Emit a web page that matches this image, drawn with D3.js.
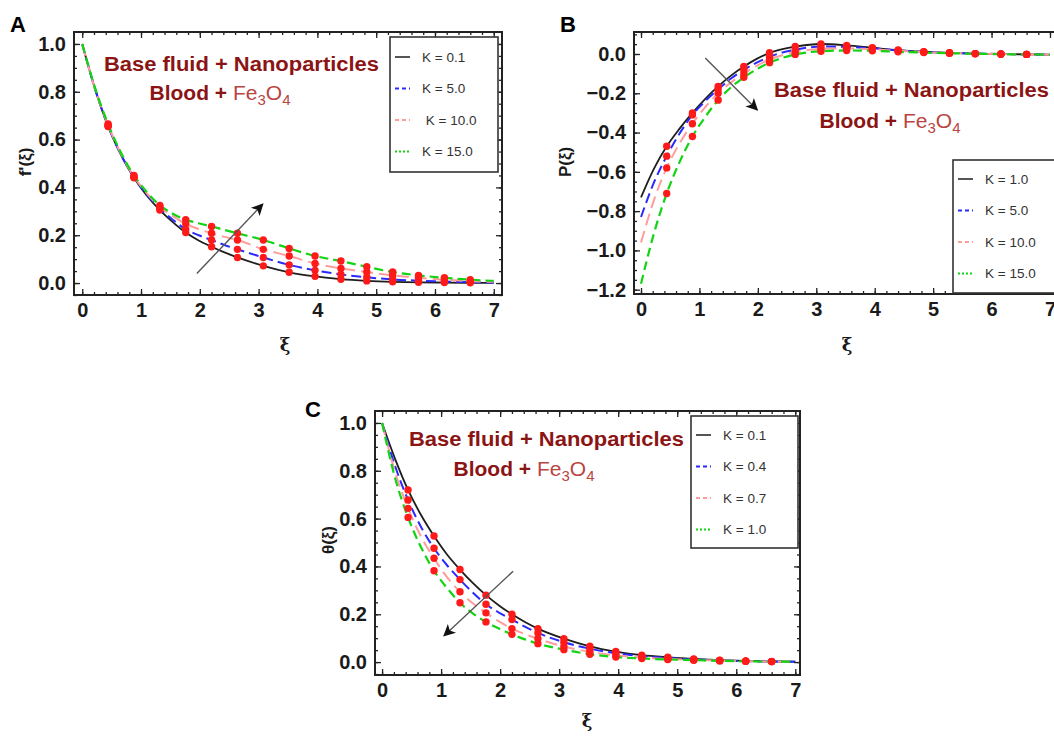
<!DOCTYPE html>
<html>
<head>
<meta charset="utf-8">
<script src="https://cdn.jsdelivr.net/npm/d3@7"></script>
<style>
  body { margin: 0; background: #fff; }
  svg { display: block; font-family: "Liberation Sans", Arial, sans-serif; }
</style>
</head>
<body>
<div id="container"></div>
<script>
/* DATA */
const xi = [0, 0.22, 0.44, 0.66, 0.88, 1.1, 1.32, 1.54, 1.76, 1.98, 2.2, 2.42, 2.64,
            3.08, 3.52, 3.96, 4.4, 4.84, 5.28, 5.72, 6.16, 6.6, 7.0];
const dotXi = [0.44, 0.88, 1.32, 1.76, 2.2, 2.64, 3.08, 3.52, 3.96, 4.4, 4.84, 5.28, 5.72, 6.16, 6.6];

// A : velocity f'(xi)
const fA_K01 = [1.0, 0.81, 0.655, 0.535, 0.44, 0.365, 0.305, 0.255, 0.211, 0.178, 0.152, 0.128, 0.107,
                0.072, 0.045, 0.028, 0.016, 0.009, 0.005, 0.003, 0.002, 0.001, 0.0005];
const fA_K5  = [1.0, 0.81, 0.657, 0.537, 0.443, 0.37, 0.312, 0.265, 0.225, 0.2, 0.18, 0.159, 0.141,
                0.107, 0.076, 0.053, 0.036, 0.024, 0.015, 0.01, 0.006, 0.004, 0.002];
const fA_K10 = [1.0, 0.81, 0.66, 0.54, 0.445, 0.375, 0.318, 0.28, 0.248, 0.226, 0.208, 0.193, 0.18,
                0.141, 0.113, 0.082, 0.061, 0.046, 0.032, 0.022, 0.014, 0.008, 0.005];
const fA_K15 = [1.0, 0.815, 0.665, 0.545, 0.45, 0.38, 0.325, 0.29, 0.265, 0.25, 0.237, 0.222, 0.208,
                0.18, 0.145, 0.113, 0.092, 0.068, 0.046, 0.032, 0.022, 0.014, 0.009];

// B : P(xi)
const pB_K1  = [-0.73, -0.585, -0.47, -0.38, -0.30, -0.228, -0.165, -0.11, -0.064, -0.025, 0.006, 0.025, 0.038,
                0.051, 0.044, 0.032, 0.02, 0.012, 0.006, 0.002, 0.0, -0.002, -0.003];
const pB_K5  = [-0.83, -0.655, -0.52, -0.405, -0.31, -0.24, -0.18, -0.125, -0.081, -0.044, -0.014, 0.008, 0.022,
                0.038, 0.036, 0.029, 0.018, 0.011, 0.005, 0.002, 0.0, -0.002, -0.003];
const pB_K10 = [-0.96, -0.745, -0.58, -0.455, -0.355, -0.27, -0.2, -0.145, -0.1, -0.06, -0.028, -0.006, 0.01,
                0.026, 0.028, 0.024, 0.016, 0.01, 0.005, 0.002, 0.0, -0.002, -0.003];
const pB_K15 = [-1.17, -0.915, -0.71, -0.55, -0.42, -0.32, -0.235, -0.17, -0.119, -0.078, -0.044, -0.02, -0.002,
                0.014, 0.018, 0.016, 0.011, 0.007, 0.004, 0.001, -0.001, -0.002, -0.003];

// C : temperature theta(xi)
const tC_K01 = [1.0, 0.85, 0.72, 0.615, 0.527, 0.45, 0.387, 0.33, 0.28, 0.237, 0.2, 0.168, 0.14,
                0.098, 0.066, 0.044, 0.029, 0.02, 0.013, 0.008, 0.005, 0.003, 0.002];
const tC_K04 = [1.0, 0.82, 0.678, 0.565, 0.476, 0.405, 0.345, 0.29, 0.242, 0.207, 0.178, 0.148, 0.122,
                0.083, 0.056, 0.037, 0.025, 0.017, 0.011, 0.007, 0.004, 0.002, 0.001];
const tC_K07 = [1.0, 0.795, 0.643, 0.525, 0.434, 0.355, 0.294, 0.245, 0.206, 0.17, 0.14, 0.117, 0.098,
                0.065, 0.043, 0.028, 0.019, 0.013, 0.009, 0.006, 0.004, 0.002, 0.001];
const tC_K10 = [1.0, 0.77, 0.605, 0.48, 0.382, 0.31, 0.248, 0.203, 0.168, 0.14, 0.116, 0.095, 0.077,
                0.052, 0.033, 0.021, 0.015, 0.011, 0.008, 0.005, 0.003, 0.002, 0.001];

const legendA = ["K = 0.1", "K = 5.0", "\u00a0K = 10.0", "K = 15.0"];
const legendB = ["K = 1.0", "K = 5.0", "K = 10.0", "K = 15.0"];
const legendC = ["K = 0.1", "K = 0.4", "K = 0.7", "K = 1.0"];

const xTicks = [0, 1, 2, 3, 4, 5, 6, 7];
const yTicksA = [0, 0.2, 0.4, 0.6, 0.8, 1.0];
const yTicksB = [0, -0.2, -0.4, -0.6, -0.8, -1.0, -1.2];

// arrows in data units [start, end]
const arrowA = [[1.95, 0.04], [3.07, 0.33]];
const arrowB = [[1.10, -0.02], [1.99, -0.285]];
const arrowC = [[2.22, 0.38], [1.05, 0.11]];

/* STYLES */
const styles = [
  { color: "#1e1e1e", dash: null, w: 1.8, legDash: null },
  { color: "#2a2aff", dash: "10,5", w: 2.0, legDash: "4,3" },
  { color: "#ff9c9c", dash: "12,6", w: 2.0, legDash: "4,3" },
  { color: "#12d412", dash: "9,5", w: 2.2, legDash: "2,2" }
];
const darkRed = "#8b1414", lightRed = "#b8453f", dotRed = "#ff1a1a";

const width = 1054, height = 736;
const svg = d3.select("#container").append("svg")
  .attr("width", width).attr("height", height);

svg.append("defs").append("marker")
  .attr("id", "head")
  .attr("viewBox", "0 0 10 10").attr("refX", 9).attr("refY", 5)
  .attr("markerWidth", 16).attr("markerHeight", 12)
  .attr("markerUnits", "userSpaceOnUse")
  .attr("orient", "auto")
  .append("path").attr("d", "M0,0 L10,5 L0,10 L2.5,5 Z").attr("fill", "#111");

function drawPanel(p) {
  const g = svg.append("g");
  const x = d3.scaleLinear().domain(p.xDomain).range([p.left, p.right]);
  const y = d3.scaleLinear().domain(p.yDomain).range([p.bottom, p.top]);

  // curves
  const line = d3.line().x(d => x(d[0])).y(d => y(d[1])).curve(d3.curveMonotoneX);
  p.series.forEach((vals, i) => {
    const s = styles[i];
    g.append("path")
      .datum(xi.map((d, j) => [d, vals[j]]))
      .attr("d", line)
      .attr("fill", "none")
      .attr("stroke", s.color)
      .attr("stroke-width", s.w)
      .attr("stroke-dasharray", s.dash);
  });

  // red markers on every curve
  p.series.forEach(vals => {
    const pts = xi.map((d, j) => [d, vals[j]]).filter(d => dotXi.includes(d[0]));
    g.selectAll(null).data(pts).join("circle")
      .attr("cx", d => x(d[0])).attr("cy", d => y(d[1]))
      .attr("r", 3.7).attr("fill", dotRed);
  });

  // axes: inward ticks on all four sides
  const xMinor = d3.range(0, 7.01, 0.2).map(v => +v.toFixed(2)).filter(v => v >= p.xDomain[0] && v <= p.xDomain[1]);
  const yLo = Math.min(...p.yDomain), yHi = Math.max(...p.yDomain);
  const yMinor = d3.range(-1.2, 1.01, 0.05).map(v => +v.toFixed(2)).filter(v => v >= yLo && v <= yHi);
  const fmt = d3.format(".1f");

  function axisPair(gen, scale, major, minor, pos, labels) {
    const a = g.append("g").attr("transform", pos);
    a.call(gen(scale).tickValues(minor).tickSize(-3).tickSizeOuter(0).tickFormat(""));
    const b = g.append("g").attr("transform", pos);
    b.call(gen(scale).tickValues(major).tickSize(-6).tickSizeOuter(0)
      .tickPadding(labels ? 8 : 0).tickFormat(labels ? fmtFor(gen) : ""));
    [a, b].forEach(s => {
      s.select(".domain").remove();
      s.selectAll("line").attr("stroke", "#222").attr("stroke-width", 1.3);
    });
    b.selectAll("text")
      .attr("font-size", 20).attr("font-weight", "bold").attr("fill", "#1a1a1a")
      .attr("font-family", "'Liberation Sans', Arial, sans-serif");
  }
  function fmtFor(gen) { return gen === d3.axisBottom ? d3.format("d") : fmt; }

  axisPair(d3.axisBottom, x, xTicks, xMinor, `translate(0,${p.bottom})`, true);
  axisPair(d3.axisTop, x, xTicks, xMinor, `translate(0,${p.top})`, false);
  axisPair(d3.axisLeft, y, p.yTicks, yMinor, `translate(${p.left},0)`, true);
  axisPair(d3.axisRight, y, p.yTicks, yMinor, `translate(${p.right},0)`, false);

  // frame
  g.append("rect")
    .attr("x", p.left).attr("y", p.top)
    .attr("width", p.right - p.left).attr("height", p.bottom - p.top)
    .attr("fill", "none").attr("stroke", "#222").attr("stroke-width", 2);

  // axis titles
  g.append("text")
    .attr("transform", `translate(${p.yTitle[0]},${p.yTitle[1]}) rotate(-90)`)
    .attr("text-anchor", "middle").attr("dy", "0.35em")
    .attr("font-size", 17).attr("font-weight", "bold").attr("fill", "#1a1a1a")
    .text(p.yLabel);
  g.append("text")
    .attr("x", p.xTitle[0]).attr("y", p.xTitle[1])
    .attr("text-anchor", "middle")
    .attr("font-family", "'DejaVu Serif', serif")
    .attr("font-size", 18).attr("font-weight", "bold").attr("fill", "#1a1a1a")
    .text("ξ");

  // panel letter
  g.append("text")
    .attr("x", p.letterPos[0]).attr("y", p.letterPos[1])
    .attr("font-size", 22).attr("font-weight", "bold").attr("fill", "#000")
    .text(p.letter);

  // annotation
  g.append("text")
    .attr("x", p.note[0] - 137).attr("y", p.note[1])
    .attr("textLength", 275).attr("lengthAdjust", "spacingAndGlyphs")
    .attr("font-size", 20).attr("font-weight", "bold").attr("fill", darkRed)
    .text("Base fluid + Nanoparticles");
  const t2 = g.append("text")
    .attr("x", p.note2[0]).attr("y", p.note2[1])
    .attr("text-anchor", "middle")
    .attr("font-size", 21).attr("fill", darkRed);
  t2.append("tspan").attr("font-weight", "bold").text("Blood + ");
  const fe = [["Fe", 0], ["3", 1], ["O", -1], ["4", 1]];
  fe.forEach(([txt, sub]) => {
    const ts = t2.append("tspan").attr("fill", lightRed).text(txt);
    if (sub === 1) { ts.attr("dy", 5).attr("font-size", 15); }
    if (sub === -1) { ts.attr("dy", -5); }
  });

  // arrow
  g.append("line")
    .attr("x1", x(p.arrow[0][0])).attr("y1", y(p.arrow[0][1]))
    .attr("x2", x(p.arrow[1][0])).attr("y2", y(p.arrow[1][1]))
    .attr("stroke", "#555").attr("stroke-width", 1.4)
    .attr("marker-end", "url(#head)");

  // legend
  const L = p.legend;
  g.append("rect")
    .attr("x", L.x).attr("y", L.y).attr("width", L.w).attr("height", L.h)
    .attr("fill", "#fff").attr("stroke", "#333").attr("stroke-width", 1.6);
  p.labels.forEach((lab, i) => {
    const yy = L.y + L.first + i * L.step;
    const s = styles[i];
    g.append("line")
      .attr("x1", L.x + 5).attr("x2", L.x + 20).attr("y1", yy).attr("y2", yy)
      .attr("stroke", i === 0 ? "#555" : s.color).attr("stroke-width", 2)
      .attr("stroke-dasharray", s.legDash);
    g.append("text")
      .attr("x", L.x + 32).attr("y", yy).attr("dy", "0.35em")
      .attr("font-size", 13.5).attr("fill", "#333")
      .text(lab);
  });
}

drawPanel({
  letter: "A", letterPos: [10, 32],
  left: 74, right: 502, top: 32, bottom: 295,
  xDomain: [-0.14, 7.14], yDomain: [-0.05, 1.05],
  yTicks: yTicksA, yLabel: "f'(ξ)", yTitle: [25, 162], xTitle: [285, 351],
  series: [fA_K01, fA_K5, fA_K10, fA_K15],
  labels: legendA,
  legend: { x: 390, y: 37, w: 108, h: 135, first: 20, step: 31.5 },
  note: [241, 71], note2: [220, 100],
  arrow: arrowA
});

drawPanel({
  letter: "B", letterPos: [560, 32],
  left: 634, right: 1064, top: 32, bottom: 294,
  xDomain: [-0.12, 7.24], yDomain: [-1.222, 0.112],
  yTicks: yTicksB, yLabel: "P(ξ)", yTitle: [565, 162], xTitle: [847, 351],
  series: [pB_K1, pB_K5, pB_K10, pB_K15],
  labels: legendB,
  legend: { x: 953, y: 160, w: 120, h: 133, first: 19, step: 31.5 },
  note: [911, 97], note2: [890, 128],
  arrow: arrowB
});

drawPanel({
  letter: "C", letterPos: [305, 417],
  left: 375, right: 800, top: 411, bottom: 675,
  xDomain: [-0.12, 7.08], yDomain: [-0.054, 1.05],
  yTicks: yTicksA, yLabel: "θ(ξ)", yTitle: [328, 540], xTitle: [587, 727],
  series: [tC_K01, tC_K04, tC_K07, tC_K10],
  labels: legendC,
  legend: { x: 691, y: 416, w: 107, h: 132, first: 19, step: 31.5 },
  note: [546, 446], note2: [524, 476],
  arrow: arrowC
});
</script>
</body>
</html>
